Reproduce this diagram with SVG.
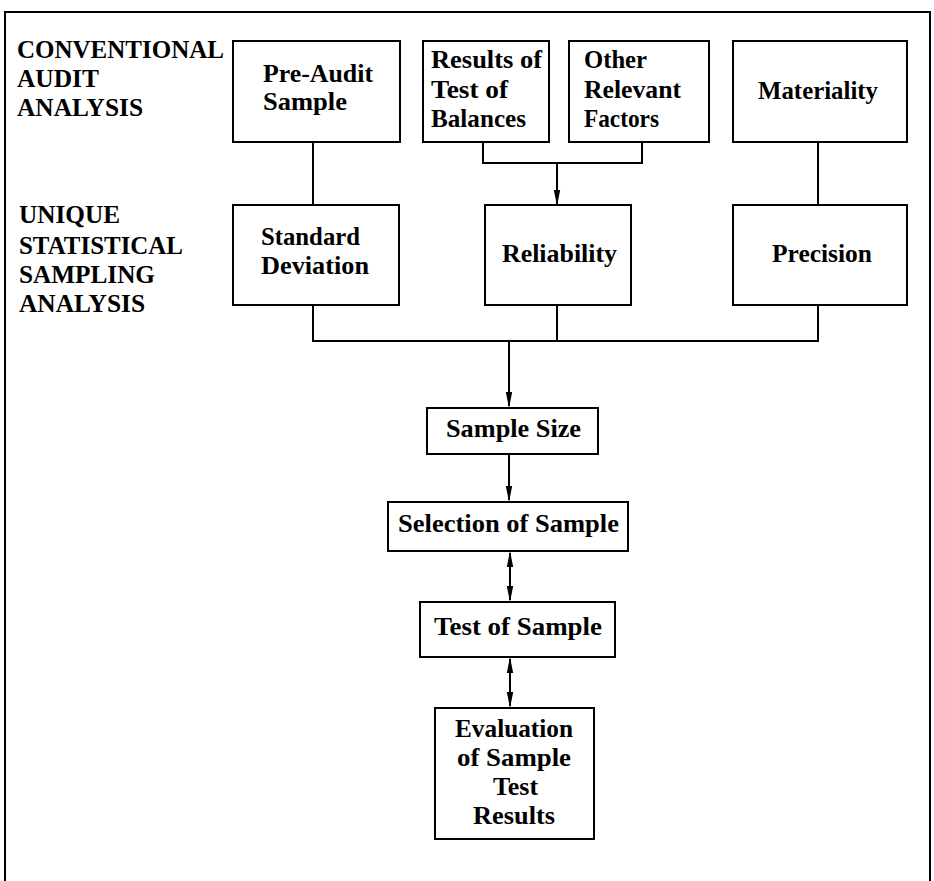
<svg xmlns="http://www.w3.org/2000/svg" width="934" height="881" viewBox="0 0 934 881">
<style>
  .box { fill: #fff; stroke: #000; stroke-width: 2; }
  .t { font-family: "Liberation Serif", "Times New Roman", serif; font-weight: bold; font-size: 25px; fill: #000; }
  .ln { fill: none; stroke: #000; stroke-width: 2; }
</style>
<defs>
  <marker id="ah" markerUnits="userSpaceOnUse" markerWidth="16" markerHeight="8" refX="14" refY="4" orient="auto-start-reverse" viewBox="0 0 16 8">
    <path d="M0,0.8 L16,4 L0,7.2 Z" fill="#000"/>
  </marker>
</defs>
<rect width="934" height="881" fill="#fff"/>
<path class="ln" d="M5,881 V12 H930 V881"/>

<g id="labels">
  <text class="t" x="17" y="58" textLength="207" lengthAdjust="spacingAndGlyphs">CONVENTIONAL</text>
  <text class="t" x="17" y="87" textLength="82" lengthAdjust="spacingAndGlyphs">AUDIT</text>
  <text class="t" x="17" y="116" textLength="126" lengthAdjust="spacingAndGlyphs">ANALYSIS</text>
  <text class="t" x="19" y="223" textLength="101" lengthAdjust="spacingAndGlyphs">UNIQUE</text>
  <text class="t" x="19" y="254" textLength="164" lengthAdjust="spacingAndGlyphs">STATISTICAL</text>
  <text class="t" x="19" y="283" textLength="136" lengthAdjust="spacingAndGlyphs">SAMPLING</text>
  <text class="t" x="19" y="312" textLength="126" lengthAdjust="spacingAndGlyphs">ANALYSIS</text>
</g>

<g id="connectors">
  <path class="ln" d="M313,142 V205"/>
  <path class="ln" d="M483,142 V163 H642 V142"/>
  <path class="ln" d="M557,163 V204" marker-end="url(#ah)"/>
  <path class="ln" d="M818,142 V205"/>
  <path class="ln" d="M313,305 V341 H818 V305"/>
  <path class="ln" d="M557,305 V341"/>
  <path class="ln" d="M509,341 V406" marker-end="url(#ah)"/>
  <path class="ln" d="M509,454 V500" marker-end="url(#ah)"/>
  <path class="ln" d="M510,553 V600" marker-start="url(#ah)" marker-end="url(#ah)"/>
  <path class="ln" d="M510,659 V706" marker-start="url(#ah)" marker-end="url(#ah)"/>
</g>

<g id="pre-audit">
  <rect class="box" x="233" y="41" width="167" height="101"/>
  <text class="t" x="263" y="82" textLength="110" lengthAdjust="spacingAndGlyphs">Pre-Audit</text>
  <text class="t" x="263" y="110" textLength="84" lengthAdjust="spacingAndGlyphs">Sample</text>
</g>
<g id="results">
  <rect class="box" x="423" y="41" width="126" height="101"/>
  <text class="t" x="431" y="68" textLength="111" lengthAdjust="spacingAndGlyphs">Results of</text>
  <text class="t" x="431" y="98" textLength="77" lengthAdjust="spacingAndGlyphs">Test of</text>
  <text class="t" x="431" y="127" textLength="95" lengthAdjust="spacingAndGlyphs">Balances</text>
</g>
<g id="other">
  <rect class="box" x="569" y="41" width="140" height="101"/>
  <text class="t" x="584" y="68" textLength="63" lengthAdjust="spacingAndGlyphs">Other</text>
  <text class="t" x="584" y="98" textLength="97" lengthAdjust="spacingAndGlyphs">Relevant</text>
  <text class="t" x="584" y="127" textLength="75" lengthAdjust="spacingAndGlyphs">Factors</text>
</g>
<g id="materiality">
  <rect class="box" x="733" y="41" width="174" height="101"/>
  <text class="t" x="758" y="99" textLength="120" lengthAdjust="spacingAndGlyphs">Materiality</text>
</g>
<g id="std-dev">
  <rect class="box" x="233" y="205" width="166" height="100"/>
  <text class="t" x="261" y="245" textLength="99" lengthAdjust="spacingAndGlyphs">Standard</text>
  <text class="t" x="261" y="274" textLength="108" lengthAdjust="spacingAndGlyphs">Deviation</text>
</g>
<g id="reliability">
  <rect class="box" x="485" y="205" width="146" height="100"/>
  <text class="t" x="502" y="262" textLength="115" lengthAdjust="spacingAndGlyphs">Reliability</text>
</g>
<g id="precision">
  <rect class="box" x="733" y="205" width="174" height="100"/>
  <text class="t" x="772" y="262" textLength="100" lengthAdjust="spacingAndGlyphs">Precision</text>
</g>
<g id="sample-size">
  <rect class="box" x="427" y="408" width="171" height="46"/>
  <text class="t" x="446" y="437" textLength="135" lengthAdjust="spacingAndGlyphs">Sample Size</text>
</g>
<g id="selection">
  <rect class="box" x="388" y="502" width="240" height="49"/>
  <text class="t" x="398" y="532" textLength="221" lengthAdjust="spacingAndGlyphs">Selection of Sample</text>
</g>
<g id="test">
  <rect class="box" x="420" y="602" width="195" height="55"/>
  <text class="t" x="434" y="635" textLength="168" lengthAdjust="spacingAndGlyphs">Test of Sample</text>
</g>
<g id="evaluation">
  <rect class="box" x="435" y="708" width="159" height="131"/>
  <text class="t" x="455" y="737" textLength="118" lengthAdjust="spacingAndGlyphs">Evaluation</text>
  <text class="t" x="457" y="766" textLength="114" lengthAdjust="spacingAndGlyphs">of Sample</text>
  <text class="t" x="493" y="795" textLength="45" lengthAdjust="spacingAndGlyphs">Test</text>
  <text class="t" x="473" y="824" textLength="82" lengthAdjust="spacingAndGlyphs">Results</text>
</g>
</svg>
